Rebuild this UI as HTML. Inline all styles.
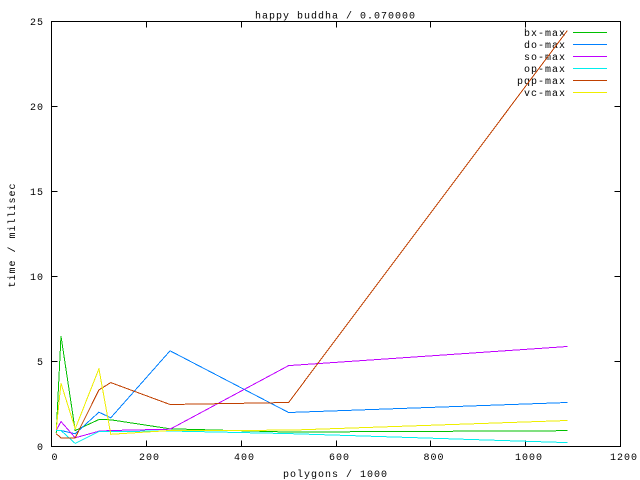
<!DOCTYPE html>
<html><head><meta charset="utf-8"><style>
html,body{margin:0;padding:0;background:#fff;}
svg{display:block;}
text{font-family:"Liberation Mono","DejaVu Sans Mono",monospace;font-size:10px;letter-spacing:1px;fill:#000;}
</style></head><body>
<svg width="640" height="480" viewBox="0 0 640 480" xmlns="http://www.w3.org/2000/svg">
<rect x="0" y="0" width="640" height="480" fill="#fff"/>
<g stroke="#000" stroke-width="1" fill="none" shape-rendering="crispEdges">
<rect x="51.5" y="21.5" width="569" height="425"/>
<path d="M51.5 361.5h6M51.5 276.5h6M51.5 191.5h6M51.5 106.5h6M620.5 361.5h-6M620.5 276.5h-6M620.5 191.5h-6M620.5 106.5h-6"/>
<path d="M146.5 446.5v-6M241.5 446.5v-6M336.5 446.5v-6M430.5 446.5v-6M525.5 446.5v-6M146.5 21.5v6M241.5 21.5v6M336.5 21.5v6M430.5 21.5v6M525.5 21.5v6"/>
</g>
<g text-anchor="end">
<text x="44" y="450">0</text>
<text x="44" y="365">5</text>
<text x="44" y="280">10</text>
<text x="44" y="195">15</text>
<text x="44" y="110">20</text>
<text x="44" y="25">25</text>
</g>
<g text-anchor="middle">
<text x="55" y="460">0</text>
<text x="149.5" y="460">200</text>
<text x="244.5" y="460">400</text>
<text x="339.5" y="460">600</text>
<text x="434" y="460">800</text>
<text x="529" y="460">1000</text>
<text x="624" y="460">1200</text>
<text x="335.5" y="18.5">happy buddha / 0.070000</text>
<text x="335.5" y="477">polygons / 1000</text>
<text transform="translate(15,235) rotate(-90)">time / millisec</text>
</g>
<g text-anchor="end">
<text x="566" y="36">bx-max</text>
<text x="566" y="48">do-max</text>
<text x="566" y="60">so-max</text>
<text x="566" y="72">op-max</text>
<text x="566" y="84">pqp-max</text>
<text x="566" y="96">vc-max</text>
</g>
<g stroke-width="1" fill="none" shape-rendering="crispEdges">
<path stroke="#00c000" d="M573 32.5H607"/>
<path stroke="#0080ff" d="M573 44.5H607"/>
<path stroke="#c000ff" d="M573 56.5H607"/>
<path stroke="#00eeee" d="M573 68.5H607"/>
<path stroke="#c04000" d="M573 80.5H607"/>
<path stroke="#eeee00" d="M573 92.5H607"/>
</g>
<g stroke-width="1" fill="none" stroke-linejoin="miter" shape-rendering="crispEdges">
<polyline stroke="#00c000" points="56.24,432.9 60.98,336.0 75.21,430.5 98.92,419.5 110.77,419.8 170.04,428.8 288.58,432.05 567.4,430.7"/>
<polyline stroke="#0080ff" points="56.24,430.5 60.98,430.5 75.21,433.75 98.92,412.2 110.77,417.8 170.04,350.8 288.58,412.5 567.4,402.5"/>
<polyline stroke="#c000ff" points="56.24,430.5 60.98,421.5 75.21,437.8 98.92,431.2 110.77,430.5 170.04,429.2 288.58,365.6 567.4,346.5"/>
<polyline stroke="#00eeee" points="56.24,430.5 60.98,430.5 75.21,443.4 98.92,431.5 110.77,431.5 170.04,431.0 288.58,433.6 567.4,442.6"/>
<polyline stroke="#c04000" points="56.24,433.75 60.98,437.8 75.21,437.8 98.92,389.9 110.77,382.6 170.04,404.5 288.58,402.5 567.4,30.5"/>
<polyline stroke="#eeee00" points="56.24,429.5 60.98,383.3 75.21,428.8 98.92,368.8 110.77,434.3 170.04,430.5 288.58,430.2 567.4,420.5"/>
</g>
</svg>
</body></html>
